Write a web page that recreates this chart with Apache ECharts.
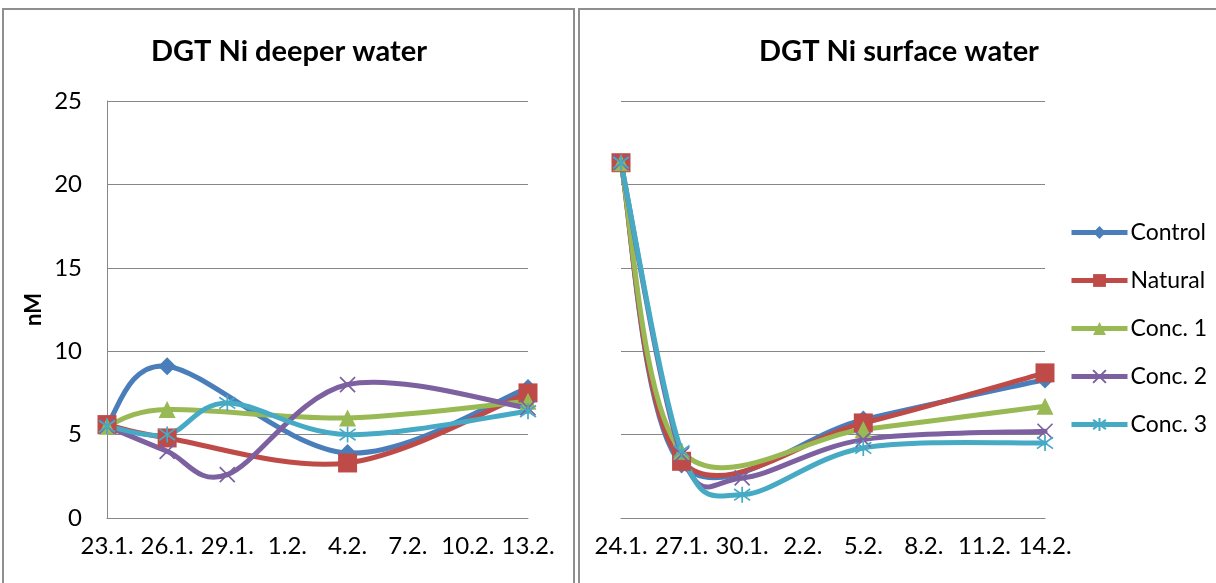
<!DOCTYPE html>
<html>
<head>
<meta charset="utf-8">
<script src="https://cdn.jsdelivr.net/npm/echarts@6/dist/echarts.min.js"></script>
<style>
  html, body { margin: 0; padding: 0; background: #fff; }
  #chart { width: 1216px; height: 583px; }
</style>
</head>
<body>
<div id="chart"></div>
<script>
// Sampling dates and DGT Ni concentrations (nM); null = no sample that day
const seriesNames = ['Control', 'Natural', 'Conc. 1', 'Conc. 2', 'Conc. 3'];

const deepDates = ['23.1.', '26.1.', '29.1.', '4.2.', '13.2.'];
const deepControl = [5.6, 9.1, null, 3.9, 7.8];
const deepNatural = [5.6, 4.8, null, 3.3, 7.5];
const deepConc1 = [5.5, 6.5, null, 6.0, 7.0];
const deepConc2 = [5.5, 4.0, 2.6, 8.0, 6.6];
const deepConc3 = [5.5, 5.0, 6.9, 5.0, 6.4];

const surfDates = ['24.1.', '27.1.', '30.1.', '5.2.', '14.2.'];
const surfControl = [21.3, 3.2, null, 5.9, 8.3];
const surfNatural = [21.3, 3.4, null, 5.7, 8.7];
const surfConc1 = [21.3, 4.0, null, 5.3, 6.7];
const surfConc2 = [21.3, 3.8, 2.4, 4.7, 5.2];
const surfConc3 = [21.3, 4.0, 1.4, 4.2, 4.5];

// Date-axis tick labels (every third day)
const deepTicks = ['23.1.', '26.1.', '29.1.', '1.2.', '4.2.', '7.2.', '10.2.', '13.2.'];
const surfTicks = ['24.1.', '27.1.', '30.1.', '2.2.', '5.2.', '8.2.', '11.2.', '14.2.'];

const colors = ['#4A7EBB', '#BE4B48', '#98B954', '#7D60A0', '#46AAC5'];
const FONT = 'Lato';
const LINE_W = 5;

// Day of year for a "d.m." label (January / February only)
function dayOfYear(label) {
  const parts = label.split('.');
  const d = parseInt(parts[0], 10), m = parseInt(parts[1], 10);
  return (m === 1 ? 0 : 31) + d;
}

function toPairs(dates, values) {
  const start = dayOfYear(dates[0]);
  const out = [];
  values.forEach((v, i) => {
    if (v !== null) out.push([dayOfYear(dates[i]) - start, v]);
  });
  return out;
}

// Symbols: diamond, square, triangle, cross and asterisk
const symbols = [
  'diamond',
  'rect',
  'triangle',
  'path://M0,0L10,10M10,0L0,10',
  'path://M0,0L10,10M10,0L0,10M5,-2L5,12'
];
const symbolSizes = [18, 19, 17, 15, 16];

// Markers (and legend entry) for one series; its curve is drawn separately
function markerSeries(idx, pairs, axisIndex) {
  const strokeOnly = idx >= 3;
  return {
    name: seriesNames[idx],
    type: 'line',
    xAxisIndex: axisIndex,
    yAxisIndex: axisIndex,
    data: pairs,
    clip: false,
    symbol: symbols[idx],
    symbolSize: symbolSizes[idx],
    showAllSymbol: true,
    color: colors[idx],
    lineStyle: { width: 0, color: colors[idx] },
    itemStyle: strokeOnly
      ? { color: 'none', borderColor: colors[idx], borderWidth: 1.7 }
      : { color: colors[idx], borderWidth: 0 },
    emphasis: { disabled: true },
    z: 4
  };
}

// Smoothed curve through the points: cubic Bezier segments whose control
// arms are one sixth of the neighbour-to-neighbour vector (Catmull-Rom style)
function curveSeries(idx, pairs, axisIndex) {
  return {
    name: seriesNames[idx],
    type: 'custom',
    xAxisIndex: axisIndex,
    yAxisIndex: axisIndex,
    data: pairs,
    encode: { x: 0, y: 1 },
    clip: false,
    silent: true,
    z: 3,
    renderItem: function (params, api) {
      const i = params.dataIndex;
      const n = pairs.length;
      if (i >= n - 1) return null;
      const P = k => api.coord(pairs[Math.max(0, Math.min(n - 1, k))]);
      const p0 = P(i - 1), p1 = P(i), p2 = P(i + 1), p3 = P(i + 2);
      return {
        type: 'bezierCurve',
        shape: {
          x1: p1[0], y1: p1[1],
          x2: p2[0], y2: p2[1],
          cpx1: p1[0] + (p2[0] - p0[0]) / 6,
          cpy1: p1[1] + (p2[1] - p0[1]) / 6,
          cpx2: p2[0] - (p3[0] - p1[0]) / 6,
          cpy2: p2[1] - (p3[1] - p1[1]) / 6
        },
        style: { fill: null, stroke: colors[idx], lineWidth: LINE_W, lineCap: 'round' }
      };
    }
  };
}

const deepSets = [deepControl, deepNatural, deepConc1, deepConc2, deepConc3];
const surfSets = [surfControl, surfNatural, surfConc1, surfConc2, surfConc3];

const series = [];
deepSets.forEach((vals, i) => series.push(markerSeries(i, toPairs(deepDates, vals), 0)));
surfSets.forEach((vals, i) => series.push(markerSeries(i, toPairs(surfDates, vals), 1)));
deepSets.forEach((vals, i) => series.push(curveSeries(i, toPairs(deepDates, vals), 0)));
surfSets.forEach((vals, i) => series.push(curveSeries(i, toPairs(surfDates, vals), 1)));

const gridColor = '#878787';
const labelStyle = { fontFamily: FONT, fontSize: 24, color: '#000' };

function xAxisFor(gridIndex, ticks) {
  return {
    type: 'value',
    gridIndex: gridIndex,
    min: 0,
    max: (ticks.length - 1) * 3,
    interval: 3,
    axisLine: { show: true, lineStyle: { color: gridColor, width: 1 } },
    axisTick: { show: false },
    splitLine: { show: false },
    axisLabel: Object.assign({
      margin: 16,
      formatter: v => ticks[Math.round(v / 3)]
    }, labelStyle)
  };
}

const chart = echarts.init(document.getElementById('chart'), null, { renderer: 'canvas' });
chart.setOption({
  animation: false,
  backgroundColor: '#fff',
  textStyle: { fontFamily: FONT },
  graphic: [
    { type: 'rect', shape: { x: 3, y: 9, width: 571, height: 620 },
      style: { fill: 'none', stroke: '#8f8f8f', lineWidth: 2 } },
    { type: 'rect', shape: { x: 579, y: 9, width: 660, height: 620 },
      style: { fill: 'none', stroke: '#8f8f8f', lineWidth: 2 } }
  ],
  title: [
    { text: 'DGT Ni deeper water', left: 284, top: 32, textAlign: 'center',
      textStyle: { fontFamily: FONT, fontSize: 29, fontWeight: 'bold', color: '#000' } },
    { text: 'DGT Ni surface water', left: 894, top: 32, textAlign: 'center',
      textStyle: { fontFamily: FONT, fontSize: 29, fontWeight: 'bold', color: '#000' } }
  ],
  legend: {
    data: seriesNames,
    orient: 'vertical',
    left: 1064,
    top: 216,
    itemWidth: 56,
    itemHeight: 16,
    itemGap: 25,
    lineStyle: { width: 5 },
    textStyle: { fontFamily: FONT, fontSize: 23, color: '#000', padding: [0, 0, 0, -2] }
  },
  grid: [
    { left: 107, top: 101, width: 421, height: 417 },
    { left: 621, top: 101, width: 424, height: 417 }
  ],
  xAxis: [xAxisFor(0, deepTicks), xAxisFor(1, surfTicks)],
  yAxis: [
    {
      type: 'value', gridIndex: 0, min: 0, max: 25, interval: 5,
      name: 'nM', nameLocation: 'middle', nameRotate: 90, nameGap: 62,
      nameTextStyle: { fontFamily: FONT, fontSize: 22, fontWeight: 'bold', color: '#000' },
      axisLine: { show: true, lineStyle: { color: gridColor, width: 1 } },
      axisTick: { show: false },
      splitLine: { show: true, lineStyle: { color: gridColor, width: 1 } },
      axisLabel: Object.assign({ margin: 25 }, labelStyle)
    },
    {
      type: 'value', gridIndex: 1, min: 0, max: 25, interval: 5,
      axisLine: { show: false },
      axisTick: { show: false },
      splitLine: { show: true, lineStyle: { color: gridColor, width: 1 } },
      axisLabel: { show: false }
    }
  ],
  series: series
});
</script>
</body>
</html>
